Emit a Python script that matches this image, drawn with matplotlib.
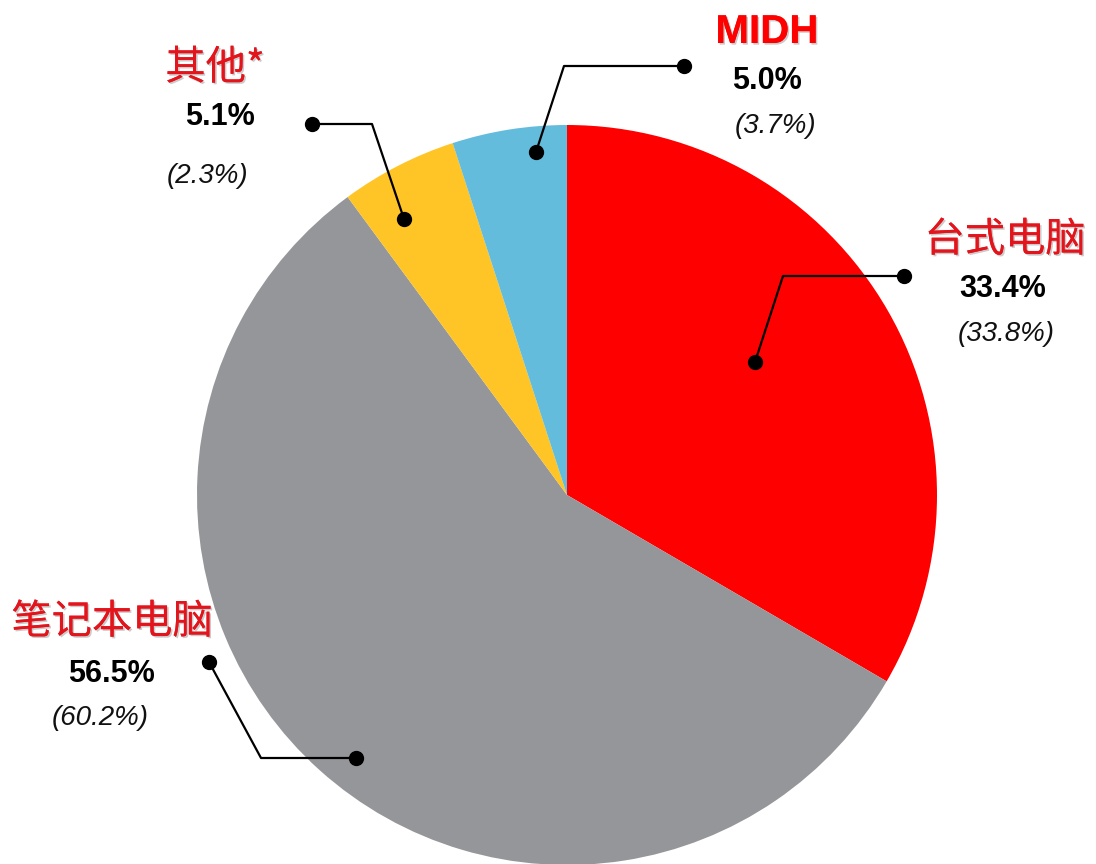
import matplotlib
matplotlib.use("Agg")
import matplotlib.pyplot as plt
import matplotlib.patheffects as pe

# data
categories = ["台式电脑", "笔记本电脑", "其他*", "MIDH"]
shares = [33.4, 56.5, 5.1, 5.0]
prior_shares = [33.8, 60.2, 2.3, 3.7]
colors = ["#FF0000", "#959699", "#FFC425", "#63BCDC"]

W, H = 1096, 864
CENTER = (567, 495)
RADIUS = 370

# label layout in pixels (x, y from top): name, value, prior
label_pos = {
    "台式电脑": [(1005, 240), (1003, 289), (1006, 334)],
    "笔记本电脑": [(112, 622), (111, 674), (100, 718)],
    "其他*": [(215, 68), (220, 117), (208, 176)],
    "MIDH": [(767, 32), (767, 81), (776, 126)],
}
# leader polylines: inner dot -> elbow -> outer dot
leaders = {
    "台式电脑": [(755, 362), (783, 276), (904, 276)],
    "笔记本电脑": [(356, 758), (261, 758), (209, 662)],
    "其他*": [(404, 219), (372, 124), (312, 124)],
    "MIDH": [(536, 152), (564, 66), (684, 66)],
}


def fy(y):
    return H - y


fig = plt.figure(figsize=(W / 100, H / 100), dpi=100)
ax = fig.add_axes([0, 0, 1, 1])
ax.set_xlim(0, W)
ax.set_ylim(0, H)
ax.set_aspect("equal")
ax.axis("off")

ax.pie(shares, colors=colors, startangle=90, counterclock=False,
       center=(CENTER[0], fy(CENTER[1])), radius=RADIUS,
       wedgeprops=dict(linewidth=0))
ax.set_xlim(0, W)
ax.set_ylim(0, H)

shadow = [pe.withSimplePatchShadow(offset=(1.2, -1.2), shadow_rgbFace="#999999", alpha=0.5),
          pe.Normal()]

for name, share, prior in zip(categories, shares, prior_shares):
    pts = leaders[name]
    xs = [p[0] for p in pts]
    ys = [fy(p[1]) for p in pts]
    ax.plot(xs, ys, color="black", linewidth=1.6, zorder=5)
    ax.plot([xs[0], xs[-1]], [ys[0], ys[-1]], "o", color="black",
            markersize=10, zorder=6)

    (nx, ny), (vx, vy), (px, py) = label_pos[name]
    if name == "MIDH":
        ax.text(nx, fy(ny), name, ha="center", va="center", color="#FF0000",
                fontsize=29, fontweight="bold", family="Liberation Sans",
                path_effects=shadow)
    else:
        ax.text(nx, fy(ny), name, ha="center", va="center", color="#E3141B",
                fontsize=29, family=["Noto Sans CJK SC", "DejaVu Sans"],
                path_effects=shadow)
    ax.text(vx, fy(vy), f"{share:.1f}%", ha="center", va="center", color="black",
            fontsize=22, fontweight="bold", family="Liberation Sans")
    ax.text(px, fy(py), f"({prior:.1f}%)", ha="center", va="center", color="#111111",
            fontsize=20, style="italic", family="Liberation Sans")

fig.savefig("out.png", dpi=100)
